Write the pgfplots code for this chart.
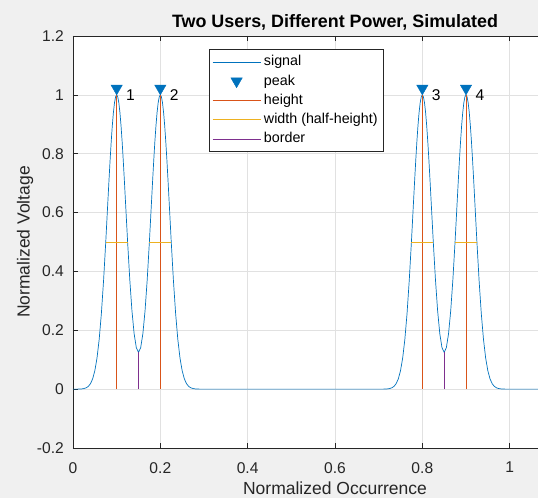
\documentclass[border=0pt]{standalone}
\usepackage{fontspec}
\setmainfont{Liberation Sans}
\usepackage{pgfplots}
\pgfplotsset{compat=1.18}
\usepackage{pgfplotstable}
\usetikzlibrary{backgrounds}

\definecolor{figbg}{HTML}{F0F0F0}
\definecolor{axcol}{HTML}{262626}
\definecolor{gridcol}{HTML}{E1E1E1}
\definecolor{mblue}{HTML}{0072BD}
\definecolor{morange}{HTML}{D95319}
\definecolor{myellow}{HTML}{EDB120}
\definecolor{mpurple}{HTML}{7E2F8E}

% simulated signal, two pairs of pulses
\pgfplotstableread{
x y
0.000 0.0000
0.010 0.0001
0.015 0.0003
0.020 0.0008
0.025 0.0020
0.030 0.0044
0.035 0.0092
0.040 0.0185
0.045 0.0350
0.050 0.0626
0.055 0.1059
0.060 0.1697
0.065 0.2572
0.070 0.3687
0.075 0.5001
0.080 0.6418
0.0825 0.7121
0.085 0.7793
0.0875 0.8410
0.090 0.8950
0.0925 0.9395
0.095 0.9727
0.0975 0.9931
0.100 1.0000
0.1025 0.9931
0.105 0.9728
0.1075 0.9396
0.110 0.8951
0.1125 0.8412
0.115 0.7796
0.1175 0.7126
0.120 0.6426
0.125 0.5021
0.130 0.3731
0.135 0.2664
0.140 0.1882
0.145 0.1409
0.150 0.1252
0.155 0.1409
0.160 0.1882
0.165 0.2664
0.170 0.3731
0.175 0.5021
0.180 0.6426
0.1825 0.7126
0.185 0.7796
0.1875 0.8412
0.190 0.8951
0.1925 0.9396
0.195 0.9728
0.1975 0.9931
0.200 1.0000
0.2025 0.9931
0.205 0.9727
0.2075 0.9395
0.210 0.8950
0.2125 0.8410
0.215 0.7793
0.2175 0.7121
0.220 0.6418
0.225 0.5001
0.230 0.3687
0.235 0.2572
0.240 0.1697
0.245 0.1059
0.250 0.0626
0.255 0.0350
0.260 0.0185
0.265 0.0092
0.270 0.0044
0.275 0.0020
0.280 0.0008
0.285 0.0003
0.290 0.0001
0.300 0.0000
0.700 0.0000
0.710 0.0001
0.715 0.0003
0.720 0.0008
0.725 0.0020
0.730 0.0044
0.735 0.0092
0.740 0.0185
0.745 0.0350
0.750 0.0626
0.755 0.1059
0.760 0.1697
0.765 0.2572
0.770 0.3687
0.775 0.5001
0.780 0.6418
0.7825 0.7121
0.785 0.7793
0.7875 0.8410
0.790 0.8950
0.7925 0.9395
0.795 0.9727
0.7975 0.9931
0.800 1.0000
0.8025 0.9931
0.805 0.9728
0.8075 0.9396
0.810 0.8951
0.8125 0.8412
0.815 0.7796
0.8175 0.7126
0.820 0.6426
0.825 0.5021
0.830 0.3731
0.835 0.2664
0.840 0.1882
0.845 0.1409
0.850 0.1252
0.855 0.1409
0.860 0.1882
0.865 0.2664
0.870 0.3731
0.875 0.5021
0.880 0.6426
0.8825 0.7126
0.885 0.7796
0.8875 0.8412
0.890 0.8951
0.8925 0.9396
0.895 0.9728
0.8975 0.9931
0.900 1.0000
0.9025 0.9931
0.905 0.9727
0.9075 0.9395
0.910 0.8950
0.9125 0.8410
0.915 0.7793
0.9175 0.7121
0.920 0.6418
0.925 0.5001
0.930 0.3687
0.935 0.2572
0.940 0.1697
0.945 0.1059
0.950 0.0626
0.955 0.0350
0.960 0.0185
0.965 0.0092
0.970 0.0044
0.975 0.0020
0.980 0.0008
0.985 0.0003
0.990 0.0001
1.000 0.0000
1.200 0.0000
}\signal

\pgfplotstableread{
x y lab
0.1 1.022 1
0.2 1.022 2
0.8 1.022 3
0.9 1.022 4
}\peaks

\begin{document}
\begin{tikzpicture}
\begin{axis}[
    name=ax,
    scale only axis,
    width=524pt, height=412pt,
    xmin=0, xmax=1.2,
    ymin=-0.2, ymax=1.2,
    xtick={0,0.2,0.4,0.6,0.8,1},
    ytick={-0.2,0,0.2,0.4,0.6,0.8,1,1.2},
    /pgf/number format/assume math mode=true,
    scaled ticks=false,
    tick label style={font=\fontsize{15.6}{18}\selectfont, text=axcol},
    xticklabel style={inner sep=0pt, anchor=north, yshift=-14pt},
    yticklabel style={inner sep=0pt, anchor=east, xshift=-9pt},
    tick align=inside,
    major tick length=5pt,
    every tick/.style={axcol, line width=0.6pt},
    axis line style={axcol, line width=0.6pt},
    grid=major,
    major grid style={gridcol, line width=0.6pt},
    axis background/.style={fill=white},
    every axis title shift=0pt,
    title={Two Users, Different Power, Simulated},
    title style={at={(axis description cs:0.5,1)}, anchor=base, inner sep=0pt,
        yshift=8pt, font=\fontsize{17.9}{20}\selectfont\bfseries},
    xlabel={Normalized Occurrence},
    ylabel={Normalized Voltage},
    label style={font=\fontsize{17.5}{20}\selectfont, text=axcol},
    x label style={at={(axis description cs:0.5,0)}, anchor=north, inner sep=0pt, yshift=-34pt},
    y label style={at={(axis description cs:-0.0916,0.5)}, anchor=center, inner sep=0pt},
    legend image code/.code={\draw[mark repeat=2,mark phase=2,#1]
        plot coordinates {(0pt,0pt) (24pt,0pt) (48pt,0pt)};},
    legend cell align=left,
    legend style={at={(0.2595,0.9684)}, anchor=north west, draw=axcol, fill=white,
        line width=0.5pt, inner xsep=3pt, inner ysep=3pt, row sep=0pt,
        font=\fontsize{14.3}{17}\selectfont,
        nodes={inner xsep=3pt, inner ysep=2pt, text height=11.5pt, text depth=3.75pt}},
    unbounded coords=jump,
]
\addplot[mblue, line width=0.7pt] table[x=x, y=y] {\signal};
\addlegendentry{signal}

\addplot[only marks, mark=triangle*, mark size=6.5pt,
    mark options={rotate=180, fill=mblue, draw=mblue},
    nodes near coords, point meta=explicit symbolic,
    every node near coord/.style={anchor=west, inner sep=0pt, xshift=9.3pt, yshift=-6.5pt,
        font=\fontsize{15.6}{18}\selectfont, text=black}]
    table[x=x, y=y, meta=lab] {\peaks};
\addlegendentry{peak}

\addplot[morange, line width=0.7pt] coordinates {
    (0.1,0) (0.1,1) (0.1,nan)
    (0.2,0) (0.2,1) (0.2,nan)
    (0.8,0) (0.8,1) (0.8,nan)
    (0.9,0) (0.9,1)};
\addlegendentry{height}

\addplot[myellow, line width=0.7pt] coordinates {
    (0.075,0.5) (0.125,0.5) (0.125,nan)
    (0.175,0.5) (0.225,0.5) (0.225,nan)
    (0.775,0.5) (0.825,0.5) (0.825,nan)
    (0.875,0.5) (0.925,0.5)};
\addlegendentry{width (half-height)}

\addplot[mpurple, line width=0.7pt] coordinates {
    (0.15,0) (0.15,0.1252) (0.15,nan)
    (0.85,0) (0.85,0.1252)};
\addlegendentry{border}
\end{axis}
\begin{scope}[on background layer]
\fill[figbg] ([shift={(-73pt,-50pt)}]ax.south west) rectangle ([shift={(465pt,36pt)}]ax.north west);
\end{scope}
\pgfresetboundingbox
\path[use as bounding box] ([shift={(-73pt,-50pt)}]ax.south west) rectangle ([shift={(465pt,36pt)}]ax.north west);
\end{tikzpicture}
\end{document}
